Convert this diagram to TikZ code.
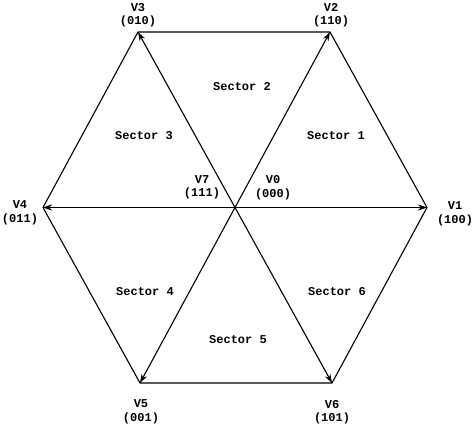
\documentclass[tikz,border=0pt]{standalone}
\usepackage{fontspec}
\setmonofont{Liberation Mono}
\usetikzlibrary{arrows.meta}
\begin{document}
\begin{tikzpicture}[x=1pt,y=-1pt,
  lbl/.style={font=\ttfamily\bfseries\fontsize{12}{13.5}\selectfont, align=center, inner sep=0pt},
  edge/.style={line width=1.1pt},
  vec/.style={line width=1.1pt, -{Stealth[length=9pt,width=6pt]}}]
\useasboundingbox (0,0) rectangle (474,430);
\coordinate (O) at (235,207.5);
\coordinate (P1) at (427,207.5);
\coordinate (P2) at (330,32);
\coordinate (P3) at (138,32);
\coordinate (P4) at (43,207.5);
\coordinate (P5) at (140,383);
\coordinate (P6) at (332,383);
\draw[edge] (P1) -- (P2) -- (P3) -- (P4) -- (P5) -- (P6) -- cycle;
\foreach \i in {1,...,6} \draw[vec] (O) -- (P\i);
\node[lbl] (v3) at (138,15) {V3\\(010)};
\node[lbl] (v2) at (331,15) {V2\\(110)};
\node[lbl] (v4) at (20,213) {V4\\(011)};
\node[lbl] (v1) at (455,214) {V1\\(100)};
\node[lbl] (v5) at (141,412) {V5\\(001)};
\node[lbl] (v6) at (332,412) {V6\\(101)};
\node[lbl] (v7) at (202,187.5) {V7\\(111)};
\node[lbl] (v0) at (273,187.5) {V0\\(000)};
\node[lbl] (s2) at (242,87) {Sector 2};
\node[lbl] (s1) at (336,136) {Sector 1};
\node[lbl] (s3) at (144,136) {Sector 3};
\node[lbl] (s4) at (145,292) {Sector 4};
\node[lbl] (s5) at (238,340) {Sector 5};
\node[lbl] (s6) at (337,292) {Sector 6};
\end{tikzpicture}
\end{document}
